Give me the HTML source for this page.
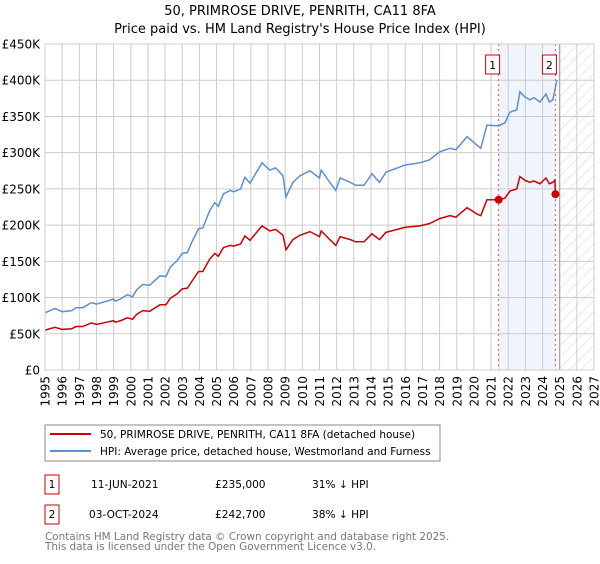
<!DOCTYPE html>
<html><head><meta charset="utf-8"><style>
body{margin:0;background:#fff;font-family:"DejaVu Sans","Liberation Sans",sans-serif;}
svg text{font-family:"DejaVu Sans","Liberation Sans",sans-serif;}
</style></head><body>
<svg id="chart" width="600" height="560" xmlns="http://www.w3.org/2000/svg">
<defs><pattern id="hatch" patternUnits="userSpaceOnUse" width="8" height="8" patternTransform="rotate(45)"><line x1="0" y1="0" x2="0" y2="8" stroke="#d4d4d4" stroke-width="1"/></pattern></defs>
<text x="300" y="15" text-anchor="middle" font-size="13">50, PRIMROSE DRIVE, PENRITH, CA11 8FA</text>
<text x="300" y="33" text-anchor="middle" font-size="13">Price paid vs. HM Land Registry's House Price Index (HPI)</text>
<g id="plot"></g>
<g>
<rect x="45" y="425" width="395" height="36" fill="#fff" stroke="#888"/>
<line x1="50" y1="434" x2="91" y2="434" stroke="#cc0000" stroke-width="2"/>
<text x="100" y="438" font-size="10.5">50, PRIMROSE DRIVE, PENRITH, CA11 8FA (detached house)</text>
<line x1="50" y1="451" x2="91" y2="451" stroke="#5b8fd4" stroke-width="2"/>
<text x="100" y="455" font-size="10.5">HPI: Average price, detached house, Westmorland and Furness</text>
</g>
<g font-size="10.6">
<rect x="45" y="475" width="14" height="19" fill="#fff" stroke="#c00"/><text x="52" y="488" text-anchor="middle">1</text>
<text x="91" y="488">11-JUN-2021</text><text x="215" y="488">£235,000</text><text x="312" y="488">31% ↓ HPI</text>
<rect x="45" y="505" width="14" height="19" fill="#fff" stroke="#c00"/><text x="52" y="518" text-anchor="middle">2</text>
<text x="89" y="518">03-OCT-2024</text><text x="215" y="518">£242,700</text><text x="312" y="518">38% ↓ HPI</text>
</g>
<text x="45" y="540" font-size="10.4" fill="#777">Contains HM Land Registry data © Crown copyright and database right 2025.</text>
<text x="45" y="550" font-size="10.4" fill="#777">This data is licensed under the Open Government Licence v3.0.</text>
</svg>
<script>
const hpiYears=[1995.0,1995.58,1996.0,1996.57,1996.8,1997.2,1997.7,1998.0,1998.6,1999.0,1999.1,1999.4,1999.8,2000.1,2000.35,2000.7,2001.1,2001.7,2002.05,2002.3,2002.7,2003.0,2003.3,2003.55,2003.95,2004.2,2004.6,2004.9,2005.1,2005.4,2005.8,2006.0,2006.4,2006.65,2006.95,2007.65,2008.1,2008.45,2008.87,2009.05,2009.45,2009.86,2010.44,2011.0,2011.1,2011.6,2011.95,2012.2,2012.8,2013.1,2013.6,2014.05,2014.5,2014.87,2015.2,2016.0,2016.85,2017.4,2018.0,2018.6,2018.95,2019.6,2020.2,2020.4,2020.76,2021.44,2021.8,2022.1,2022.5,2022.68,2022.97,2023.26,2023.5,2023.85,2024.2,2024.4,2024.6,2024.84];
const hpiValues=[79,85,80.5,82,86,86,93,91,95,98,95,98,104,101,111,118,117,130,129,142,151,161,162,176,195,196,220,231,226,243,248,246,250,266,258,286,276,279,268,239,259,268,275,265,276,259,248,265,259,255,255,271,259,273,276,283,286,290,301,306,304,322,310,306,338,337,341,356,359,384,377,373,376,370,381,370,373,400];
const priceYears=[1995.0,1995.58,1996.0,1996.57,1996.8,1997.2,1997.7,1998.0,1998.6,1999.0,1999.1,1999.4,1999.8,2000.1,2000.35,2000.7,2001.1,2001.7,2002.05,2002.3,2002.7,2003.0,2003.3,2003.55,2003.95,2004.2,2004.6,2004.9,2005.1,2005.4,2005.8,2006.0,2006.4,2006.65,2006.95,2007.65,2008.1,2008.45,2008.87,2009.05,2009.45,2009.86,2010.44,2011.0,2011.1,2011.6,2011.95,2012.2,2012.8,2013.1,2013.6,2014.05,2014.5,2014.87,2015.2,2016.0,2016.85,2017.4,2018.0,2018.6,2018.95,2019.6,2020.2,2020.4,2020.76,2021.44,2021.8,2022.1,2022.5,2022.68,2022.97,2023.26,2023.5,2023.85,2024.2,2024.4,2024.6,2024.72,2024.75];
const priceValues=[55,59,56,57,60,60,65,63,66,68,66,68,72,70,77,82,81,90,90,99,105,112,113,122,136,136,153,161,157,169,172,171,174,185,179,199,192,194,186,166,180,186,191,184,192,180,172,184,180,177,177,188,180,190,192,197,199,202,209,213,211,224,215,213,235,235,237,247,250,267,262,259,261,257,265,257,259,262,242.7];
const saleYears=[2021.44,2024.75];
const saleValues=[235,242.7];
const saleLabels=["1","2"];
const yTicks=[0,50,100,150,200,250,300,350,400,450];
const yTickLabels=["£0","£50K","£100K","£150K","£200K","£250K","£300K","£350K","£400K","£450K"];
const xTicks=[1995,1996,1997,1998,1999,2000,2001,2002,2003,2004,2005,2006,2007,2008,2009,2010,2011,2012,2013,2014,2015,2016,2017,2018,2019,2020,2021,2022,2023,2024,2025,2026,2027];
const forecastStart=2025.0;

const L=45,R=594,T=44,B=370,X0=1995,X1=2027,YMAX=450;
const xs=y=>L+(y-X0)/(X1-X0)*(R-L);
const ys=v=>B-v/YMAX*(B-T);
const NS="http://www.w3.org/2000/svg";
const g=document.getElementById('plot');
function mk(tag,attrs,parent){const e=document.createElementNS(NS,tag);for(const k in attrs)e.setAttribute(k,attrs[k]);(parent||g).appendChild(e);return e;}

const band=mk('rect',{x:xs(saleYears[0]),y:T,width:xs(saleYears[1])-xs(saleYears[0]),height:B-T,fill:'#f0f4fc'});


const hat=mk('rect',{x:xs(forecastStart),y:T,width:R-xs(forecastStart),height:B-T,fill:'url(#hatch)'});



yTicks.forEach((v,i)=>{
  const l=mk('line',{x1:L,x2:R,y1:ys(v),y2:ys(v),stroke:'#cccccc','stroke-width':1});
  
  
  const t=mk('text',{x:L-5,y:ys(v)+4.5,'text-anchor':'end','font-size':12});
  t.textContent=yTickLabels[i];
  
  
});
xTicks.forEach(yr=>{
  const l=mk('line',{x1:xs(yr),x2:xs(yr),y1:T,y2:B,stroke:'#cccccc','stroke-width':1});
  
  
  const t=mk('text',{x:0,y:0,'text-anchor':'end','font-size':12,transform:`translate(${xs(yr)+4.5},376) rotate(-90)`});
  t.textContent=yr;
  
  
});
const fl=mk('line',{x1:xs(forecastStart),x2:xs(forecastStart),y1:T,y2:B,stroke:'#999','stroke-width':1});



saleYears.forEach((yr,i)=>{
  const l=mk('line',{x1:xs(yr),x2:xs(yr),y1:T,y2:B,stroke:'#ee5555','stroke-width':1,'stroke-dasharray':'2,3'});
  
  
});

const hp=mk('polyline',{points:hpiYears.map((y,i)=>xs(y)+','+ys(hpiValues[i])).join(' '),fill:'none',stroke:'#5b8fd4','stroke-width':1.5});


const pp=mk('polyline',{points:priceYears.map((y,i)=>xs(y)+','+ys(priceValues[i])).join(' '),fill:'none',stroke:'#cc0000','stroke-width':1.5});



saleYears.forEach((yr,i)=>{
  const c=mk('circle',{cx:xs(yr),cy:ys(saleValues[i]),r:4,fill:'#cc0000'});
  
  
  const bx=xs(yr)-13;
  const r=mk('rect',{x:bx,y:55,width:14,height:19,fill:'#fff',stroke:'#c00'});
  
  
  const t=mk('text',{x:bx+7,y:69,'text-anchor':'middle','font-size':11});
  t.textContent=saleLabels[i];
  
  
});
const frame=mk('rect',{x:L,y:T,width:R-L,height:B-T,fill:'none',stroke:'#cccccc'});


</script>
</body></html>
